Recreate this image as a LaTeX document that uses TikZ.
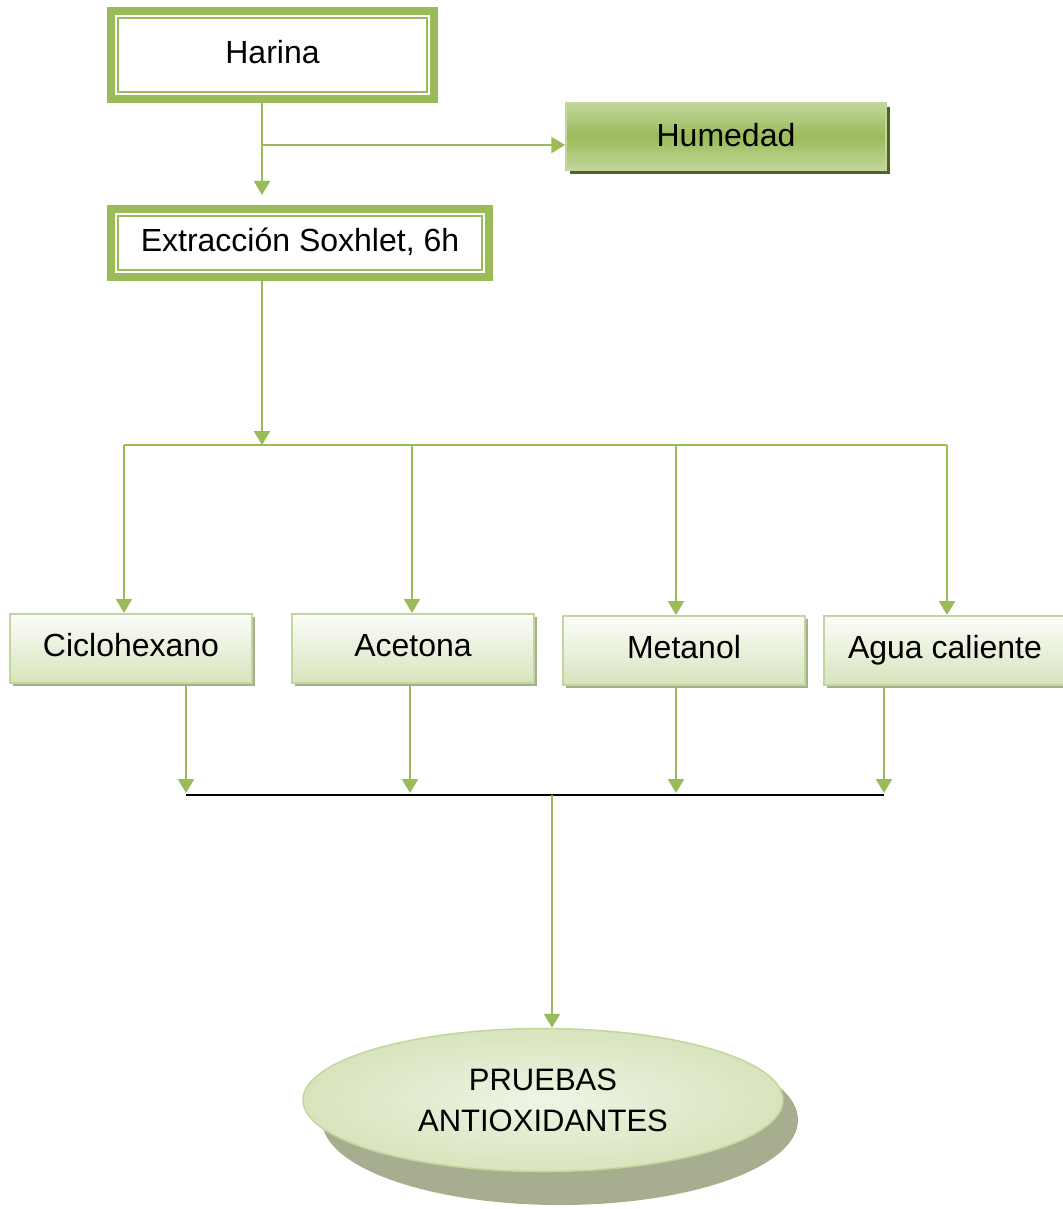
\documentclass[tikz,border=0pt]{standalone}
\usepackage{fontspec}
\setmainfont{Liberation Sans}
\usetikzlibrary{shapes.geometric,arrows.meta,positioning,shadows}

\definecolor{leaf}{HTML}{9BBB59}
\definecolor{leaflight}{HTML}{C3D69B}
\definecolor{leafpale}{HTML}{D7E4BD}
\definecolor{leafdark}{HTML}{4F6228}
\definecolor{leafshade}{HTML}{A6AE8F}

\begin{document}
\begin{tikzpicture}[x=0.5pt,y=-0.5pt,
    flow/.style={draw=leaf,line width=1.2pt,-{Triangle[length=7pt,width=8pt]}},
    wire/.style={draw=leaf,line width=1.2pt},
    dblbox/.style={draw=leaf,line width=4pt,fill=white,inner sep=0pt,
        text depth=0.3em,font=\fontsize{16}{19}\selectfont},
    moistbox/.style={draw=leaflight,line width=0.75pt,inner sep=0pt,
        minimum width=160pt,minimum height=33.5pt,
        top color=leaflight,bottom color=leaflight,middle color=leaf,
        general shadow={fill=leafdark,shadow xshift=2pt,shadow yshift=-2pt},
        text depth=0.2em,font=\fontsize{16}{19}\selectfont},
    solvbox/.style={draw=leaflight,line width=1pt,inner sep=0pt,
        minimum width=121pt,minimum height=34.5pt,
        top color=white!70!leafpale!30,bottom color=leafpale,
        general shadow={fill=leafshade,shadow xshift=1.5pt,shadow yshift=-1.5pt},
        text depth=0.35em,font=\fontsize{16}{19}\selectfont},
    testoval/.style={ellipse,draw=leaflight,line width=0.75pt,inner sep=0pt,
        minimum width=240pt,minimum height=71.5pt,
        inner color=leafpale!40,outer color=leafpale,
        align=center,font=\fontsize{15.5}{20.5}\selectfont}
]
\useasboundingbox (0,0) rectangle (1062,1209);

% Top of the process
\node[dblbox,minimum width=161.5pt,minimum height=44pt] (harina) at (272.5,55) {Harina};
\node[moistbox] (humedad) at (726,136.5) {Humedad};
\node[dblbox,minimum width=189pt,minimum height=34pt] (soxhlet) at (300,243) {Extracción Soxhlet, 6h};
\foreach \n in {harina,soxhlet}
    \draw[leaf,line width=1pt] ([shift={(5.5pt,-5.5pt)}]\n.north west) rectangle ([shift={(-5.5pt,5.5pt)}]\n.south east);

\coordinate (split) at (262,145);
\draw[flow,shorten >=5pt] (harina.south -| split) -- (split |- soxhlet.north);
\draw[flow] (split) -- (split -| humedad.west);

% Solvents
\node[solvbox] (ciclo) at (131,648.5) {Ciclohexano};
\node[solvbox] (acetona) at (413,648.5) {Acetona};
\node[solvbox] (metanol) at (684,650.5) {Metanol};
\node[solvbox] (agua) at (945,650.5) {Agua caliente};

\coordinate (busmid) at (262,445);
\draw[flow] (soxhlet.south -| busmid) -- (busmid);

\foreach \n/\a/\b in {ciclo/124/186,acetona/412/410,metanol/676/676,agua/947/884} {
    \coordinate (t\n) at (\a,445);
    \coordinate (b\n) at (\b,795);
}
\draw[wire] (tciclo) -- (tagua);
\draw[black,line width=1pt] (bciclo) -- (bagua);
\foreach \n in {ciclo,acetona,metanol,agua} {
    \draw[flow] (t\n) -- (t\n |- \n.north);
    \draw[flow,shorten >=1pt] (b\n |- \n.south) -- (b\n);
}

% Final tests
\fill[leafshade] (560,1120) ellipse [x radius=119pt,y radius=42.5pt];
\node[testoval] (pruebas) at (543,1100) {PRUEBAS\\ANTIOXIDANTES};
\coordinate (merge) at (552,795);
\draw[flow] (merge) -- (merge |- pruebas.north);
\end{tikzpicture}
\end{document}
